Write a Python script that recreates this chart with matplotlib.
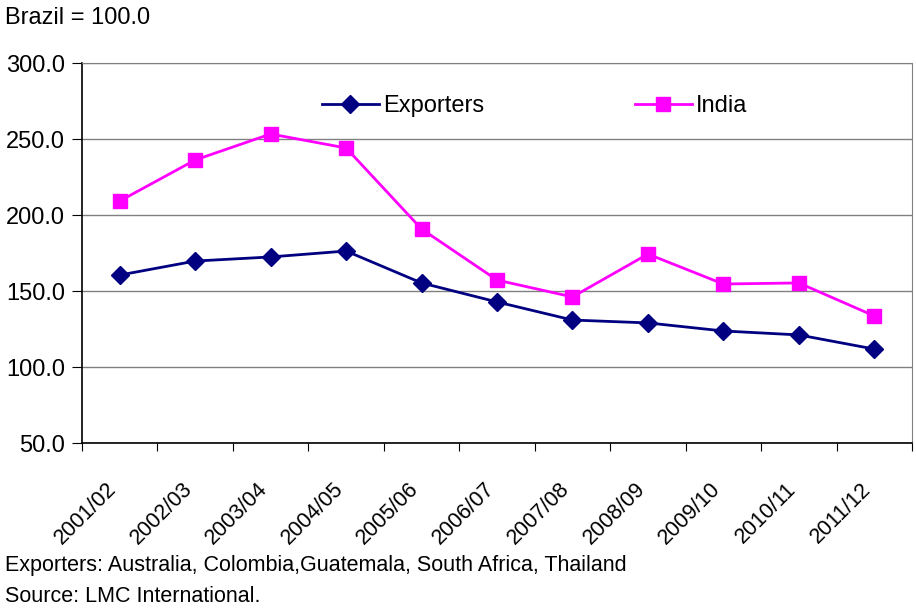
import numpy as np
import matplotlib.pyplot as plt
from matplotlib import transforms

seasons = ['2001/02', '2002/03', '2003/04', '2004/05', '2005/06', '2006/07',
           '2007/08', '2008/09', '2009/10', '2010/11', '2011/12']
exporters = [160.5, 169.7, 172.4, 176.3, 155.3, 142.8, 130.9, 129.0, 123.7, 121.1, 111.8]
india = [209.2, 236.2, 253.3, 244.1, 190.8, 157.2, 146.1, 174.3, 154.6, 155.3, 133.6]

plt.rcParams['font.family'] = ['Liberation Sans', 'DejaVu Sans']

fig = plt.figure(figsize=(9.16, 6.08), dpi=100)
ax = fig.add_axes([82/916, 1 - 443/608, 830/916, 380/608])

x = np.arange(len(seasons))
ax.plot(x, exporters, color='#000080', lw=2, marker='D', ms=9, label='Exporters', zorder=3)
ax.plot(x, india, color='#FF00FF', lw=2, marker='s', ms=10, label='India', zorder=3)

ax.set_xlim(-0.5, len(seasons) - 0.5)
ax.set_ylim(50, 300)
ax.set_yticks(np.arange(50, 301, 50))
ax.set_yticklabels(['%.1f' % v for v in np.arange(50, 301, 50)], fontsize=17)
ax.yaxis.grid(True, color='#808080', lw=1)
ax.set_axisbelow(True)

# category boundaries get the tick marks, labels sit at the centres
ax.set_xticks(np.arange(-0.5, len(seasons), 1))
ax.set_xticklabels([])
ax.set_xticks(x, minor=True)
ax.set_xticklabels(seasons, minor=True, rotation=45, ha='right', va='center', fontsize=15.5,
                   rotation_mode='anchor')
ax.tick_params(axis='x', which='minor', length=0, pad=31)
ax.tick_params(axis='x', which='major', length=6, direction='out')
ax.tick_params(axis='y', length=7, direction='out', pad=5)
offset = transforms.ScaledTranslation(-0.06, 0, fig.dpi_scale_trans)
for lbl in ax.get_xticklabels(minor=True):
    lbl.set_transform(lbl.get_transform() + offset)

for s in ['left', 'bottom']:
    ax.spines[s].set_color('black')
    ax.spines[s].set_linewidth(1.2)
ax.spines['right'].set_color('#808080')
ax.spines['top'].set_color('#808080')

ax.legend(loc='center left', bbox_to_anchor=((322 - 82) / 830, (443 - 106) / 380), ncol=2,
          frameon=False, fontsize=17, columnspacing=6.4, handlelength=2.4,
          handletextpad=0.17, borderpad=0, borderaxespad=0)

fig.text(5/916, 1 - 18/608, 'Brazil = 100.0', fontsize=17, va='center', ha='left')
fig.text(5/916, 1 - 565/608, 'Exporters: Australia, Colombia,Guatemala, South Africa, Thailand',
         fontsize=15.5, va='center', ha='left')
fig.text(5/916, 1 - 596/608, 'Source: LMC International.', fontsize=15.5, va='center', ha='left')

fig.savefig('out.png', dpi=100)
